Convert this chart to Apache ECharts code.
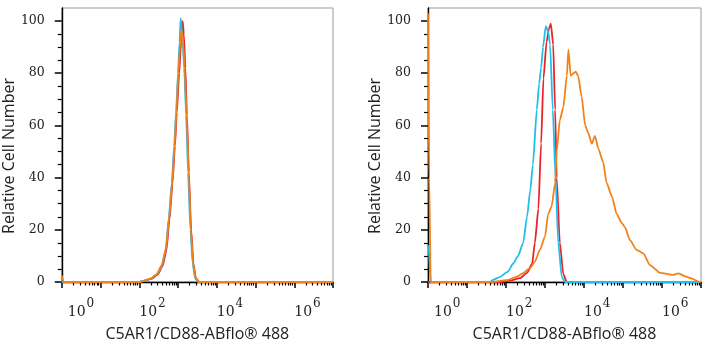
<!doctype html>
<html>
<head>
<meta charset="utf-8">
<title>C5AR1/CD88 flow</title>
<script src="https://cdn.jsdelivr.net/npm/echarts@6/dist/echarts.min.js"></script>
<style>
  html, body { margin: 0; padding: 0; background: #fff; }
  #chart { width: 710px; height: 350px; }
</style>
</head>
<body>
<div id="chart"></div>
<script>
// x = log10 of fluorescence, y = relative cell number
var leftCyan = [[0,0],[2.0,0],[2.1,0.4],[2.3,1.2],[2.45,2.8],[2.58,6],[2.68,12],[2.76,24],[2.84,38],[2.9,52],[2.95,65],[3.0,80],[3.04,92],[3.07,101],[3.11,95],[3.16,82],[3.21,64],[3.26,42],[3.32,20],[3.38,7],[3.44,1.5],[3.52,0],[7,0]];
var leftRed = [[0,0],[2.0,0],[2.12,0.4],[2.32,1.2],[2.47,2.8],[2.6,6],[2.7,12],[2.78,24],[2.86,38],[2.92,52],[2.97,65],[3.03,80],[3.08,92],[3.12,100],[3.15,95],[3.19,82],[3.23,64],[3.28,42],[3.34,20],[3.4,7],[3.46,1.5],[3.55,0],[7,0]];
var leftOrange = [[0,2.5],[0.05,0],[2.02,0],[2.12,0.5],[2.3,1.4],[2.45,3],[2.58,6.5],[2.69,13],[2.77,25],[2.85,38],[2.91,52],[2.96,66],[3.01,80],[3.05,90],[3.09,97],[3.13,92],[3.18,79],[3.23,60],[3.28,40],[3.33,20],[3.39,7],[3.45,1.5],[3.54,0],[7,0]];

var rightCyan = [[0,14],[0.02,12],[0.07,0],[1.59,0],[1.67,0.8],[1.85,2],[2.05,4],[2.18,7],[2.31,10],[2.44,15],[2.54,25],[2.62,35],[2.69,45],[2.79,66],[2.85,76],[2.9,82],[2.95,90],[3.02,98],[3.08,96],[3.13,91],[3.2,66],[3.27,40],[3.34,15],[3.43,2],[3.51,0],[7,0]];
var rightRed = [[0,0],[1.85,0],[2.1,0.5],[2.36,1.5],[2.54,3.5],[2.67,7],[2.74,15],[2.83,28],[2.9,53],[2.96,78],[3.04,92],[3.1,97],[3.15,99],[3.21,91],[3.26,66],[3.3,40],[3.38,15],[3.47,3],[3.56,0],[7,0]];
var rightOrange = [[0,103],[0.03,40],[0.07,0],[1.59,0],[2.02,0.7],[2.27,2],[2.44,3.4],[2.62,5.4],[2.74,7.8],[2.87,12.3],[3.0,17.4],[3.08,26],[3.17,29],[3.26,38],[3.3,50],[3.38,62],[3.47,67],[3.56,79],[3.6,89],[3.66,79],[3.73,80],[3.79,80.6],[3.85,79],[3.94,71],[4.03,60],[4.11,57],[4.2,53],[4.28,56],[4.37,51],[4.49,46],[4.58,38],[4.71,33],[4.84,26],[4.97,22.6],[5.05,21],[5.18,16],[5.35,12.3],[5.52,11],[5.69,6.5],[5.95,3.5],[6.29,2.7],[6.42,3.3],[6.63,2],[6.75,1.4],[6.97,0],[7,0]];

var xMajorTicks = [0,1,2,3,4,5,6,7];
var xLabelTicks = [0,2,4,6];
var yLabelTicks = [0,20,40,60,80,100];
var yMinorTicks = [5,10,15,25,30,35,45,50,55,65,70,75,85,90,95];

var xTitle = 'C5AR1/CD88-ABflo® 488';
var yTitle = 'Relative Cell Number';

var CYAN = '#1fbfea', RED = '#e8232b', ORANGE = '#f08219';

// minor log ticks 2..9 in each decade
var xMinorTicks = [];
for (var d = 0; d < 7; d++) {
    for (var k = 2; k <= 9; k++) xMinorTicks.push(d + Math.log10(k));
}

var serif = 'DejaVu Serif';
var sans = 'Open Sans';
var axisLine = { show: true, onZero: false, lineStyle: { color: '#000', width: 1.4 } };

var grids = [
    { left: 60, top: 8, width: 273, height: 274, show: true, borderColor: '#999', borderWidth: 1 },
    { left: 428, top: 8, width: 273, height: 274, show: true, borderColor: '#999', borderWidth: 1 }
];

var xAxes = [], yAxes = [];
for (var i = 0; i < 2; i++) {
    xAxes.push({
        type: 'value', gridIndex: i, position: 'bottom', min: 0, max: 7,
        axisLine: axisLine,
        axisTick: { show: true, customValues: xMajorTicks, length: 6, lineStyle: { color: '#000', width: 1.5 } },
        axisLabel: {
            customValues: xLabelTicks, align: 'left', margin: 16,
            formatter: function (v) {
                var n = Math.round(v);
                return (n === 0 ? '{p|10}' : '{b|10}') + '{s|' + n + '}';
            },
            rich: {
                b: { fontFamily: serif, fontSize: 14, color: '#222', verticalAlign: 'bottom' },
                p: { fontFamily: serif, fontSize: 14, color: '#222', verticalAlign: 'bottom', padding: [0, 0, 0, 6] },
                s: { fontFamily: serif, fontSize: 12, color: '#222', verticalAlign: 'bottom', padding: [0, 0, 9, 1] }
            }
        },
        splitLine: { show: false },
        name: xTitle, nameLocation: 'middle', nameGap: 44,
        nameTextStyle: { fontFamily: sans, fontSize: 16, color: '#222' }
    });
    xAxes.push({
        type: 'value', gridIndex: i, position: 'bottom', min: 0, max: 7,
        axisLine: { show: false },
        axisTick: { show: true, customValues: xMinorTicks, length: 3.5, lineStyle: { color: '#000', width: 1.2 } },
        axisLabel: { show: false },
        splitLine: { show: false }
    });
    yAxes.push({
        type: 'value', gridIndex: i, position: 'left', min: 0, max: 105,
        axisLine: axisLine,
        axisTick: { show: true, customValues: yLabelTicks, length: 7, lineStyle: { color: '#000', width: 1.5 } },
        axisLabel: { customValues: yLabelTicks, margin: 17, fontFamily: serif, fontSize: 12.5, color: '#222' },
        splitLine: { show: false },
        name: yTitle, nameLocation: 'middle', nameGap: 37,
        nameTextStyle: { fontFamily: sans, fontSize: 16, color: '#222', padding: [0, 22, 0, 0] }
    });
    yAxes.push({
        type: 'value', gridIndex: i, position: 'left', min: 0, max: 105,
        axisLine: { show: false },
        axisTick: { show: true, customValues: yMinorTicks, length: 4, lineStyle: { color: '#000', width: 1.2 } },
        axisLabel: { show: false },
        splitLine: { show: false }
    });
}

function line(data, color, panel) {
    return {
        type: 'line', data: data, xAxisIndex: panel * 2, yAxisIndex: panel * 2,
        showSymbol: false, smooth: 0.2, smoothMonotone: 'x',
        lineStyle: { color: color, width: 1.8 }, itemStyle: { color: color },
        clip: true
    };
}

var option = {
    backgroundColor: '#fff',
    animation: false,
    grid: grids,
    xAxis: xAxes,
    yAxis: yAxes,
    series: [
        line(leftRed, RED, 0),
        line(leftCyan, CYAN, 0),
        line(leftOrange, ORANGE, 0),
        line(rightRed, RED, 1),
        line(rightCyan, CYAN, 1),
        line(rightOrange, ORANGE, 1)
    ]
};

var myChart = echarts.init(document.getElementById('chart'));
myChart.setOption(option);
</script>
</body>
</html>
